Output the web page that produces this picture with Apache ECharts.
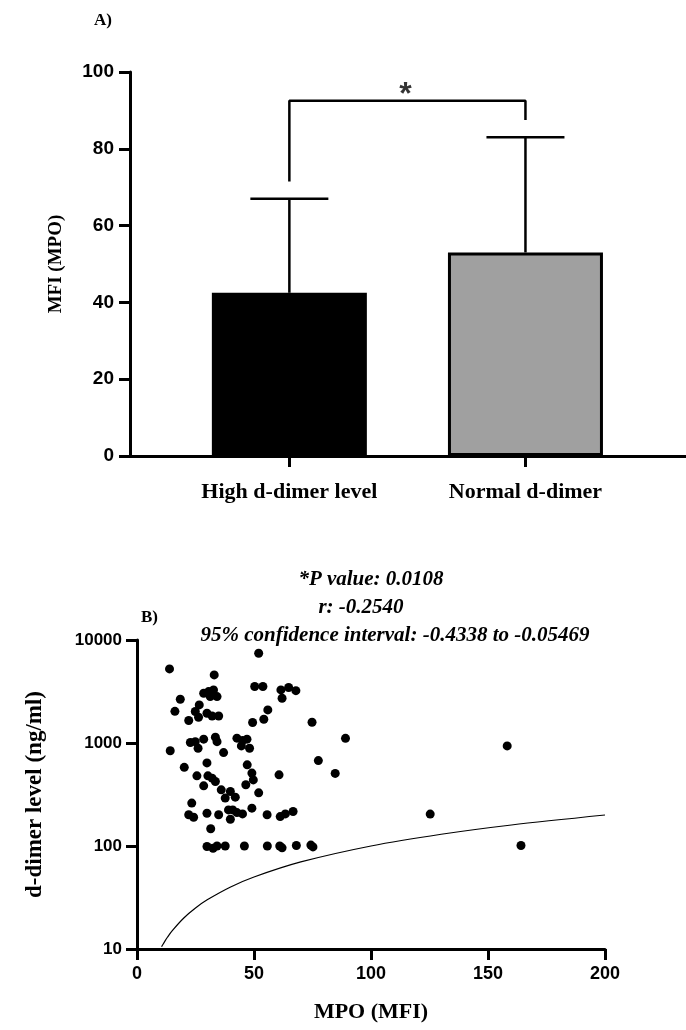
<!DOCTYPE html>
<html>
<head>
<meta charset="utf-8">
<script src="https://cdn.jsdelivr.net/npm/echarts@6/dist/echarts.min.js"></script>
<style>
  html, body { margin: 0; padding: 0; background: #fff; }
  #main { width: 686px; height: 1030px; }
</style>
</head>
<body>
<div id="main"></div>
<script>
// --- panel A: bars ---
var barCategories = ['High d-dimer level', 'Normal d-dimer'];
var barPos = [1, 2];
var barMeans = [42.5, 53];
var barSD = [24.5, 30];
var barColors = ['#000000', '#a0a0a0'];
// significance bracket
var bracket = [[1, 71.5], [1, 92.5], [2, 92.5], [2, 87.5]];
var starPos = [1.5, 96];

// --- panel B: scatter MPO vs d-dimer ---
var scatterPoints = [
    [13.9, 5240], [52.0, 7430], [33.0, 4580], [18.5, 2660], [16.2, 2030], [22.1, 1655],
    [28.5, 3040], [30.6, 3155], [32.7, 3275], [31.3, 2820], [34.2, 2820], [26.6, 2345],
    [24.9, 2020], [26.3, 1780], [29.9, 1945], [32.1, 1830], [34.9, 1830],
    [50.3, 3540], [53.8, 3540], [61.5, 3275], [64.8, 3460], [67.9, 3220], [62.0, 2720],
    [55.9, 2095], [54.2, 1700], [49.4, 1580], [74.8, 1590], [89.1, 1110],
    [14.2, 840], [22.8, 1010], [24.9, 1030], [28.5, 1090], [26.1, 890], [33.5, 1140],
    [34.2, 1030], [37.0, 807], [42.7, 1115], [45.1, 1055], [47.0, 1090], [44.6, 937], [48.1, 890],
    [29.9, 641], [20.2, 580], [47.1, 614], [77.5, 675], [84.7, 507], [60.7, 491],
    [25.6, 480], [30.3, 480], [32.1, 456], [33.5, 423], [28.5, 384], [49.1, 510],
    [49.7, 438], [46.5, 393],
    [36.0, 351], [39.9, 338], [37.7, 292], [42.0, 298], [52.0, 328],
    [23.4, 261], [22.1, 201], [24.2, 190], [29.9, 208], [34.9, 201], [39.1, 224],
    [40.9, 224], [42.7, 211], [39.9, 182], [45.1, 205], [49.1, 233], [55.6, 201],
    [61.2, 193], [63.4, 205], [66.7, 216],
    [31.5, 147],
    [29.9, 99], [32.5, 95], [34.2, 100], [37.7, 100], [45.9, 100], [55.7, 100],
    [61.0, 100], [62.0, 96], [68.1, 101], [74.3, 102], [75.2, 98],
    [125.3, 204], [158.2, 937], [164.1, 101]
];
var fitLine = [
    [10.5, 10.5], [11, 11], [12, 12], [13, 13], [15, 15], [20, 20], [25, 25], [30, 30],
    [40, 40], [50, 50], [70, 70], [100, 100], [130, 130], [160, 160], [200, 200]
];
var statLines = ['*P value: 0.0108', 'r: -0.2540', '95% confidence interval: -0.4338 to -0.05469'];

var serif = 'Liberation Serif';
var sans = 'Liberation Sans';

var chart = echarts.init(document.getElementById('main'), null, { renderer: 'canvas' });

var axisLine = { show: true, onZero: false, lineStyle: { color: '#000', width: 3 } };
var tickStyle = { show: true, length: 11, lineStyle: { color: '#000', width: 3 } };
var statStyle = { fontFamily: serif, fontWeight: 'bold', fontStyle: 'italic', fontSize: 21, color: '#000' };

chart.setOption({
    backgroundColor: '#fff',
    animation: false,
    title: [
        { text: 'A)', left: 89, top: 7, textStyle: { fontFamily: serif, fontWeight: 'bold', fontSize: 17, color: '#000' } },
        { text: 'B)', left: 136, top: 604, textStyle: { fontFamily: serif, fontWeight: 'bold', fontSize: 17, color: '#000' } },
        { text: statLines[0], left: 366, top: 564, textAlign: 'center', textStyle: statStyle },
        { text: statLines[1], left: 356, top: 592, textAlign: 'center', textStyle: statStyle },
        { text: statLines[2], left: 390, top: 620, textAlign: 'center', textStyle: statStyle }
    ],
    grid: [
        { left: 130, right: 0, top: 72, height: 384 },
        { left: 137, right: 81, top: 640, bottom: 81 }
    ],
    xAxis: [
        {
            gridIndex: 0, type: 'value', min: 0.325, max: 2.68,
            axisLine: axisLine,
            axisTick: { show: true, length: 11, customValues: barPos, lineStyle: { color: '#000', width: 3 } },
            axisLabel: {
                customValues: barPos, margin: 25, color: '#000',
                fontFamily: serif, fontWeight: 'bold', fontSize: 22,
                formatter: function (v) { return barCategories[barPos.indexOf(Math.round(v))] || ''; }
            },
            splitLine: { show: false }
        },
        {
            gridIndex: 1, type: 'value', min: 0, max: 200, interval: 50,
            name: 'MPO (MFI)', nameLocation: 'middle', nameGap: 52,
            nameTextStyle: { fontFamily: serif, fontWeight: 'bold', fontSize: 22, color: '#000' },
            axisLine: axisLine, axisTick: tickStyle,
            axisLabel: { margin: 16, color: '#000', fontFamily: sans, fontWeight: 'bold', fontSize: 18 },
            splitLine: { show: false }
        }
    ],
    yAxis: [
        {
            gridIndex: 0, type: 'value', min: 0, max: 100, interval: 20,
            name: 'MFI (MPO)', nameLocation: 'middle', nameGap: 64,
            nameTextStyle: { fontFamily: serif, fontWeight: 'bold', fontSize: 19, color: '#000' },
            axisLine: axisLine, axisTick: tickStyle,
            axisLabel: { margin: 16, color: '#000', fontFamily: sans, fontWeight: 'bold', fontSize: 19 },
            splitLine: { show: false }
        },
        {
            gridIndex: 1, type: 'log', logBase: 10, min: 10, max: 10000,
            name: 'd-dimer level (ng/ml)', nameLocation: 'middle', nameGap: 90,
            nameTextStyle: { fontFamily: serif, fontWeight: 'bold', fontSize: 23, color: '#000' },
            axisLine: axisLine, axisTick: tickStyle,
            axisLabel: {
                margin: 15, color: '#000', fontFamily: sans, fontWeight: 'bold', fontSize: 17,
                formatter: function (v) { return String(v); }
            },
            splitLine: { show: false }
        }
    ],
    series: [
        {
            type: 'bar', xAxisIndex: 0, yAxisIndex: 0, barWidth: 155,
            data: barPos.map(function (p, i) {
                return {
                    value: [p, barMeans[i]],
                    itemStyle: { color: barColors[i], borderColor: '#000', borderWidth: 3 }
                };
            }),
            z: 2
        },
        {
            type: 'custom', xAxisIndex: 0, yAxisIndex: 0, z: 1,
            data: barPos.map(function (p, i) { return [p, barMeans[i], barMeans[i] + barSD[i]]; }),
            renderItem: function (params, api) {
                var base = api.coord([api.value(0), api.value(1)]);
                var top = api.coord([api.value(0), api.value(2)]);
                var half = 39;
                var st = { stroke: '#000', lineWidth: 2.5 };
                return {
                    type: 'group',
                    children: [
                        { type: 'line', shape: { x1: base[0], y1: base[1], x2: top[0], y2: top[1] }, style: st },
                        { type: 'line', shape: { x1: top[0] - half, y1: top[1], x2: top[0] + half, y2: top[1] }, style: st }
                    ]
                };
            }
        },
        {
            type: 'line', xAxisIndex: 0, yAxisIndex: 0, data: bracket,
            symbol: 'none', lineStyle: { color: '#000', width: 2.5 }
        },
        {
            type: 'scatter', xAxisIndex: 0, yAxisIndex: 0, data: [starPos], symbolSize: 0,
            label: { show: true, position: 'inside', formatter: '*', color: '#000', fontFamily: sans, fontWeight: 'bold', fontSize: 32, offset: [-2, 8] }
        },
        {
            type: 'scatter', xAxisIndex: 1, yAxisIndex: 1, data: scatterPoints,
            symbol: 'circle', symbolSize: 9, itemStyle: { color: '#000', opacity: 1 }
        },
        {
            type: 'line', xAxisIndex: 1, yAxisIndex: 1, data: fitLine, smooth: 0.3,
            symbol: 'none', lineStyle: { color: '#000', width: 1.2 }
        }
    ]
});
</script>
</body>
</html>
